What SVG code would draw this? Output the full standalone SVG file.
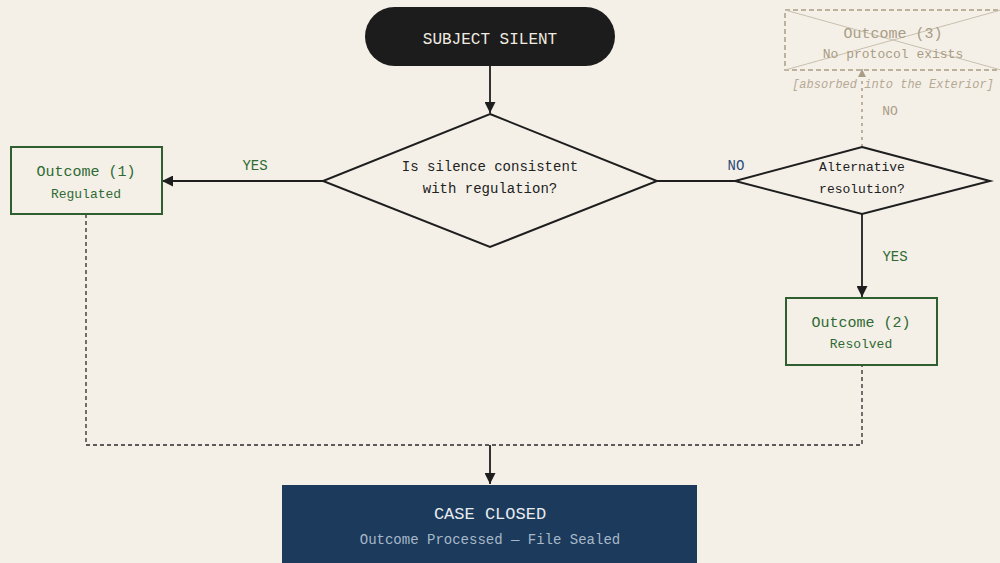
<svg xmlns="http://www.w3.org/2000/svg" width="1000" height="563" viewBox="0 0 1000 563">
<style>
text{font-family:"Liberation Mono","DejaVu Sans Mono",monospace;text-anchor:middle}
.ln{stroke:#1e1e1e;stroke-width:1.8;fill:none}
.dash{stroke:#2a2a2a;stroke-width:1.3;fill:none;stroke-dasharray:4 3}
.out{fill:#f4f0e8;stroke:#2f5f30;stroke-width:2}
.og{fill:#2f6a33}
.dia{fill:#f4f0e8;stroke:#1e1e1e;stroke-width:2}
.ghost{fill:#a99c84}
</style>
<defs>
<marker id="ah" viewBox="0 0 10 10" refX="10" refY="5" markerWidth="11" markerHeight="11" markerUnits="userSpaceOnUse" orient="auto">
<path d="M0,0 L10,5 L0,10 z" fill="#1e1e1e"/>
</marker>
<marker id="ahg" viewBox="0 0 10 10" refX="10" refY="5" markerWidth="8" markerHeight="9" markerUnits="userSpaceOnUse" orient="auto">
<path d="M0,0 L10,5 L0,10 z" fill="#a99c84"/>
</marker>
</defs>
<rect width="1000" height="563" fill="#f4f0e8"/>
<g id="connectors">
<line class="ln" x1="490" y1="66" x2="490" y2="113" marker-end="url(#ah)"/>
<line class="ln" x1="323" y1="181" x2="162" y2="181" marker-end="url(#ah)"/>
<line class="ln" x1="657" y1="181" x2="735" y2="181"/>
<line class="ln" x1="862" y1="214" x2="862" y2="297" marker-end="url(#ah)"/>
<line x1="862" y1="147" x2="862" y2="69" stroke="#a99c84" stroke-width="1.5" stroke-dasharray="3 4" marker-end="url(#ahg)"/>
<polyline class="dash" points="86,214 86,445 862,445 862,365"/>
<line class="ln" x1="490" y1="445" x2="490" y2="484" marker-end="url(#ah)"/>
<text x="255" y="170" font-size="14" class="og">YES</text>
<text x="736" y="170" font-size="14" fill="#2a4a78">NO</text>
<text x="895" y="261" font-size="14" class="og">YES</text>
<text x="890" y="115" font-size="13" class="ghost">NO</text>
</g>
<g id="start">
<rect x="365" y="7" width="250" height="59" rx="29.5" fill="#1c1c1c"/>
<text x="490" y="44" font-size="16" fill="#f0ebe0">SUBJECT SILENT</text>
</g>
<g id="decision1">
<polygon class="dia" points="490,114 657,181 490,247 323,181"/>
<text x="490" y="171" font-size="14" fill="#222">Is silence consistent</text>
<text x="490" y="193" font-size="14" fill="#222">with regulation?</text>
</g>
<g id="outcome1">
<rect class="out" x="11" y="147" width="151" height="67"/>
<text x="86" y="176" font-size="15" class="og">Outcome (1)</text>
<text x="86" y="198" font-size="13" class="og">Regulated</text>
</g>
<g id="decision2">
<polygon class="dia" points="862,147 990,181 862,214 735,181"/>
<text x="862" y="171" font-size="13" fill="#222">Alternative</text>
<text x="862" y="193" font-size="13" fill="#222">resolution?</text>
</g>
<g id="outcome2">
<rect class="out" x="786" y="298" width="151" height="67"/>
<text x="861" y="327" font-size="15" class="og">Outcome (2)</text>
<text x="861" y="348" font-size="13" class="og">Resolved</text>
</g>
<g id="outcome3">
<rect x="785" y="10" width="216" height="60" fill="none" stroke="#a99c84" stroke-width="1.5" stroke-dasharray="5 3"/>
<line x1="785" y1="10" x2="1001" y2="70" stroke="#c9bfae" stroke-width="1"/>
<line x1="785" y1="70" x2="1001" y2="10" stroke="#c9bfae" stroke-width="1"/>
<text x="893" y="38" font-size="15" class="ghost">Outcome (3)</text>
<text x="893" y="58" font-size="13" class="ghost">No protocol exists</text>
<text x="893" y="88" font-size="12" font-style="italic" fill="#b5a993">[absorbed into the Exterior]</text>
</g>
<g id="end">
<rect x="282" y="485" width="415" height="80" fill="#1b3a5c"/>
<text x="490" y="519" font-size="17" fill="#e8ecf0">CASE CLOSED</text>
<text x="490" y="544" font-size="14" fill="#a8b8c8">Outcome Processed — File Sealed</text>
</g>
</svg>
